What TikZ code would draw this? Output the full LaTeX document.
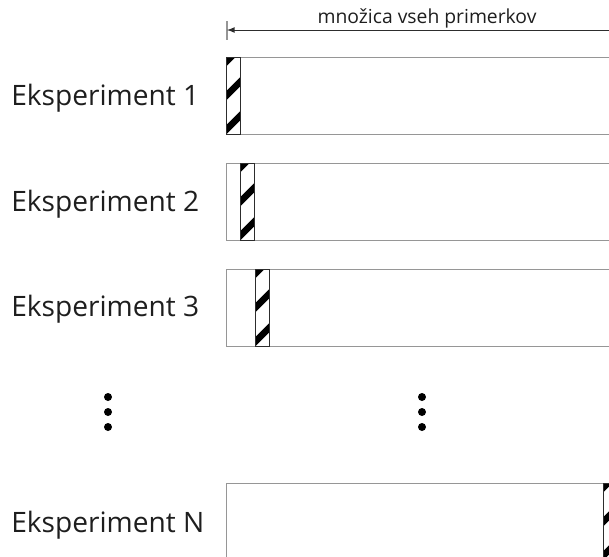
\documentclass[tikz,border=0pt]{standalone}
\usepackage{fontspec}
\setmainfont{Open Sans}
\usepackage{tikz}

\definecolor{boxline}{RGB}{150, 150, 150}
\definecolor{stripline}{RGB}{45, 45, 45}
\definecolor{textdark}{RGB}{30, 30, 30}

\begin{document}
\begin{tikzpicture}[
    x=0.02cm, y=-0.02cm,
    label/.style={anchor=base west, font=\fontsize{16}{19}\selectfont, color=textdark, inner sep=0},
    box/.style={draw=boxline, line width=0.6pt, minimum width=8.4cm, minimum height=1.54cm, anchor=north west, inner sep=0},
    strip/.style={draw=stripline, line width=0.6pt, fill=white, minimum width=0.28cm, minimum height=1.54cm, anchor=north west, inner sep=0,
      path picture={
        \foreach \k in {0.08, 0.76, 1.44}
          \draw[line width=0.13cm, color=black]
            ([xshift=-0.2cm, yshift=-\k cm - 0.2cm]path picture bounding box.north west) -- ++(0.8cm, 0.8cm);
      }},
    dot/.style={circle, fill=black, minimum size=0.16cm, inner sep=0}
  ]
    \useasboundingbox (0,0) rectangle (609,556);
    \clip (0,0) rectangle (609,556);

    % all samples
    \coordinate (all-l) at (227,30);
    \coordinate (all-r) at (640,30);
    \draw[boxline, line width=0.6pt] (227,21) -- (227,40);
    \draw[-latex, stripline, line width=0.5pt] (all-r) -- (all-l);
    \node[font=\fontsize{11}{13}\selectfont, color=textdark, anchor=base] (all) at (427,23) {množica vseh primerkov};

    % experiments
    \node[label] (exp1) at (11,105) {Eksperiment 1};
    \node[label] (exp2) at (11,211) {Eksperiment 2};
    \node[label] (exp3) at (11,316) {Eksperiment 3};
    \node[label] (expN) at (11,532) {Eksperiment N};

    \node[box] (box1) at (226,57) {};
    \node[box] (box2) at (226,163) {};
    \node[box] (box3) at (226,269) {};
    \node[box] (boxN) at (226,483) {};

    \node[strip] (strip1) at (226,57) {};
    \node[strip] (strip2) at (240,163) {};
    \node[strip] (strip3) at (255,269) {};
    \node[strip] (stripN) at (603,483) {};

    \foreach \y [count=\i] in {397, 412, 427} {
      \node[dot] (dl\i) at (108,\y) {};
      \node[dot] (dr\i) at (422,\y) {};
    }
  \end{tikzpicture}
\end{document}
